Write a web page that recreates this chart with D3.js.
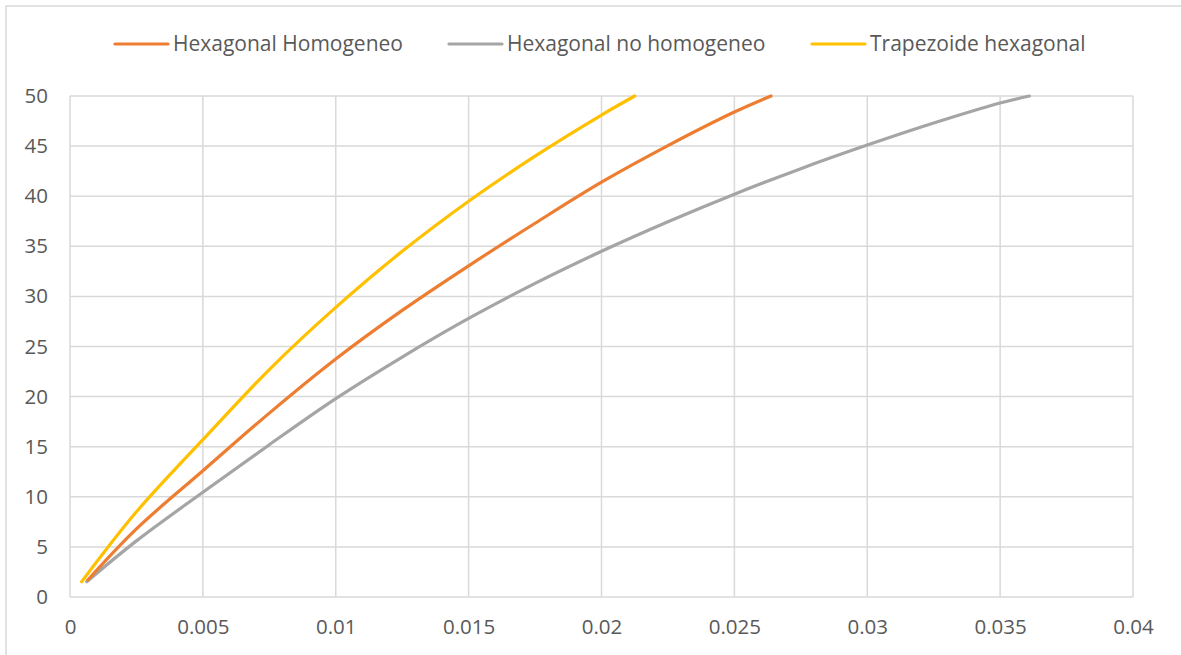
<!DOCTYPE html>
<html>
<head>
<meta charset="utf-8">
<script src="https://cdn.jsdelivr.net/npm/d3@7"></script>
<style>
  html, body { margin: 0; padding: 0; background: #fff; }
  svg { display: block; font-family: "Open Sans", "Noto Sans", sans-serif; }
</style>
</head>
<body>
<svg id="chart" width="1181" height="655"></svg>
<script>
// Series (x = deformation, y = load)
const seriesNames = ["Hexagonal Homogeneo", "Hexagonal no homogeneo", "Trapezoide hexagonal"];
const seriesColors = ["#ED7D31", "#A5A5A5", "#FFC000"];

const homogeneoX = [0.00067, 0.0025, 0.005, 0.0075, 0.01, 0.0125, 0.015, 0.0175, 0.02, 0.0225, 0.025, 0.02638];
const homogeneoY = [1.7, 6.8, 12.6, 18.35, 23.75, 28.6, 33.05, 37.3, 41.4, 45.05, 48.4, 50];

const noHomogeneoX = [0.00063, 0.0025, 0.005, 0.0075, 0.01, 0.0125, 0.015, 0.0175, 0.02, 0.0225, 0.025, 0.0275, 0.03, 0.0325, 0.035, 0.0361];
const noHomogeneoY = [1.53, 5.6, 10.45, 15.2, 19.8, 23.95, 27.8, 31.3, 34.5, 37.45, 40.2, 42.75, 45.1, 47.3, 49.3, 50];

const trapezoideX = [0.00044, 0.0025, 0.005, 0.0075, 0.01, 0.0125, 0.015, 0.0175, 0.02, 0.02125];
const trapezoideY = [1.53, 8.5, 15.7, 22.7, 28.9, 34.5, 39.5, 44.0, 48.1, 50];

const xTicks = [0, 0.005, 0.01, 0.015, 0.02, 0.025, 0.03, 0.035, 0.04];
const yTicks = [0, 5, 10, 15, 20, 25, 30, 35, 40, 45, 50];

const svg = d3.select("#chart");
const plot = { left: 70, right: 1133, top: 96, bottom: 597 };

const x = d3.scaleLinear().domain([0, 0.04]).range([plot.left, plot.right]);
const y = d3.scaleLinear().domain([0, 50]).range([plot.bottom, plot.top]);

// Outer chart frame
svg.append("rect")
  .attr("x", 6).attr("y", 6).attr("width", 1200).attr("height", 700)
  .attr("fill", "#fff").attr("stroke", "#d9d9d9").attr("stroke-width", 1.5);

// Gridlines
const grid = svg.append("g").attr("stroke", "#d9d9d9").attr("stroke-width", 1.5);
grid.selectAll("line.h").data(yTicks).join("line")
  .attr("x1", plot.left).attr("x2", plot.right)
  .attr("y1", d => y(d)).attr("y2", d => y(d));
grid.selectAll("line.v").data(xTicks).join("line")
  .attr("y1", plot.top).attr("y2", plot.bottom)
  .attr("x1", d => x(d)).attr("x2", d => x(d));

// Axes (labels only)
const xAxis = svg.append("g")
  .attr("transform", `translate(0,${plot.bottom})`)
  .call(d3.axisBottom(x).tickValues(xTicks).tickFormat(d => String(d)).tickSize(0).tickPadding(22));
const yAxis = svg.append("g")
  .attr("transform", `translate(${plot.left},0)`)
  .call(d3.axisLeft(y).tickValues(yTicks).tickFormat(d => String(d)).tickSize(0).tickPadding(22));
[xAxis, yAxis].forEach(a => {
  a.select(".domain").remove();
  a.selectAll("text").attr("fill", "#595959").style("font-size", "20.5px")
    .style("font-family", "'Open Sans', 'Noto Sans', sans-serif");
});

// Curves
const series = [
  { xs: homogeneoX, ys: homogeneoY },
  { xs: noHomogeneoX, ys: noHomogeneoY },
  { xs: trapezoideX, ys: trapezoideY }
];
const line = d3.line().x(d => x(d[0])).y(d => y(d[1])).curve(d3.curveCatmullRom.alpha(0.5));
// Draw order: gray, orange, yellow
[1, 0, 2].forEach(i => {
  const pts = series[i].xs.map((v, k) => [v, series[i].ys[k]]);
  svg.append("path").datum(pts)
    .attr("fill", "none").attr("stroke", seriesColors[i])
    .attr("stroke-width", 3.2).attr("stroke-linecap", "round")
    .attr("d", line);
});

// Legend
const legendX = [115, 449, 812];
const legend = svg.append("g");
seriesNames.forEach((name, i) => {
  const g = legend.append("g").attr("transform", `translate(${legendX[i]},44)`);
  g.append("line").attr("x1", 0).attr("x2", 53).attr("y1", 0).attr("y2", 0)
    .attr("stroke", seriesColors[i]).attr("stroke-width", 3.2).attr("stroke-linecap", "round");
  g.append("text").attr("x", 58).attr("y", 0).attr("dy", "0.35em")
    .attr("fill", "#595959").style("font-size", "21px").text(name);
});
</script>
</body>
</html>
